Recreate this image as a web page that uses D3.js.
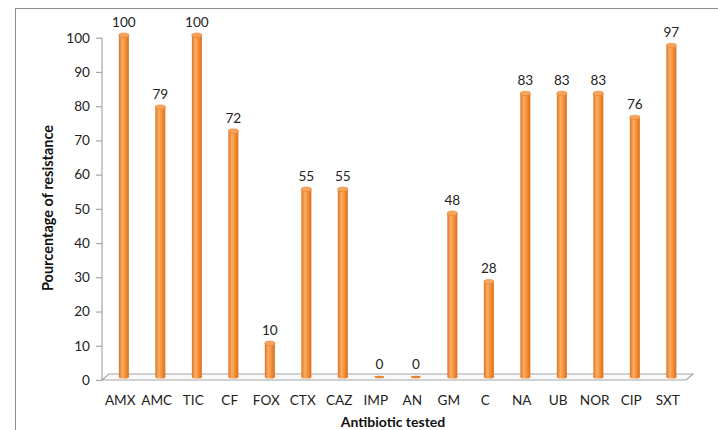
<!DOCTYPE html>
<html><head><meta charset="utf-8">
<script src="https://cdn.jsdelivr.net/npm/d3@7"></script>
<style>body{margin:0;background:#fff}svg{display:block}</style>
</head><body>
<script>
const categories = ["AMX","AMC","TIC","CF","FOX","CTX","CAZ","IMP","AN","GM","C","NA","UB","NOR","CIP","SXT"];
const resistance = [100,79,100,72,10,55,55,0,0,48,28,83,83,83,76,97];
const yTicks = [0,10,20,30,40,50,60,70,80,90,100];

const W = 718, H = 430;
const svg = d3.select("body").append("svg").attr("width", W).attr("height", H);
const font = "Lato, 'Open Sans', sans-serif";

// outer border
svg.append("rect").attr("x",15.5).attr("y",8.5).attr("width",W).attr("height",H)
  .attr("fill","none").attr("stroke","#8c8c8c").attr("stroke-width",1);

const x = d3.scaleBand().domain(categories).range([102, 686]).paddingInner(0).paddingOuter(0);
const y = d3.scaleLinear().domain([0,100]).range([380, 37.7]);
const dx = 3.6, dy = -3, depth = 7;

const defs = svg.append("defs");
const grad = defs.append("linearGradient").attr("id","cyl").attr("x1","0").attr("x2","1").attr("y1","0").attr("y2","0");
[[0,"#dc7425"],[0.35,"#fcae63"],[0.6,"#f8943f"],[1,"#d86f1c"]].forEach(s=>grad.append("stop").attr("offset",s[0]).attr("stop-color",s[1]));

// floor
const fl = 102, fr = 686, fy = 380;
svg.append("path")
  .attr("d", `M${fl},${fy} L${fr},${fy} L${fr+depth},${fy-6} L${fl+depth},${fy-6} Z`)
  .attr("fill","#fafafa").attr("stroke","#a6a6a6").attr("stroke-width",1.2);

// y axis
svg.append("line").attr("x1",102).attr("x2",102).attr("y1",y(100)).attr("y2",fy)
  .attr("stroke","#a6a6a6").attr("stroke-width",1.2);
const yg = svg.append("g").attr("transform","translate(102,0)")
  .call(d3.axisLeft(y).tickValues(yTicks).tickSize(6).tickPadding(6));
yg.select(".domain").remove();
yg.selectAll(".tick line").attr("stroke","#a6a6a6").attr("stroke-width",1.2);
yg.selectAll(".tick text").attr("font-family",font).attr("font-size",13.6).attr("fill","#222");

// x labels
const xg = svg.append("g").attr("transform",`translate(0,${fy})`)
  .call(d3.axisBottom(x).tickSize(0).tickPadding(15));
xg.select(".domain").remove();
xg.selectAll(".tick text").attr("font-family",font).attr("font-size",13.6).attr("fill","#222");

// bars (cylinders)
const bw = 10;
const bars = svg.append("g").selectAll("g").data(categories.map((c,i)=>({c, v: resistance[i]}))).join("g");
bars.each(function(d){
  const g = d3.select(this);
  const cx = x(d.c) + x.bandwidth()/2 + dx;
  const base = y(0) + dy;
  const top = y(d.v) + dy;
  if (d.v > 0) {
    g.append("rect").attr("x",cx-bw/2).attr("y",top).attr("width",bw).attr("height",base-top)
      .attr("fill","url(#cyl)");
    g.append("ellipse").attr("cx",cx).attr("cy",base).attr("rx",bw/2).attr("ry",1.6).attr("fill","url(#cyl)");
    g.append("ellipse").attr("cx",cx).attr("cy",top+0.5).attr("rx",bw/2).attr("ry",2.2)
      .attr("fill","#f9a35c").attr("stroke","#e0852f").attr("stroke-width",0.6);
  } else {
    g.append("ellipse").attr("cx",cx).attr("cy",base).attr("rx",bw/2).attr("ry",1.3).attr("fill","#e8832f");
  }
  g.append("text").attr("x",cx).attr("y",top-8).attr("text-anchor","middle")
    .attr("font-family",font).attr("font-size",13.6).attr("fill","#222").text(d.v);
});

// axis titles
svg.append("text").attr("x",393).attr("y",427).attr("text-anchor","middle")
  .attr("font-family",font).attr("font-size",14).attr("font-weight","bold").attr("fill","#111")
  .text("Antibiotic tested");
svg.append("text").attr("transform","translate(53,208) rotate(-90)").attr("text-anchor","middle")
  .attr("font-family",font).attr("font-size",14.5).attr("font-weight","bold").attr("fill","#111")
  .text("Pourcentage of resistance");
</script>
</body></html>
